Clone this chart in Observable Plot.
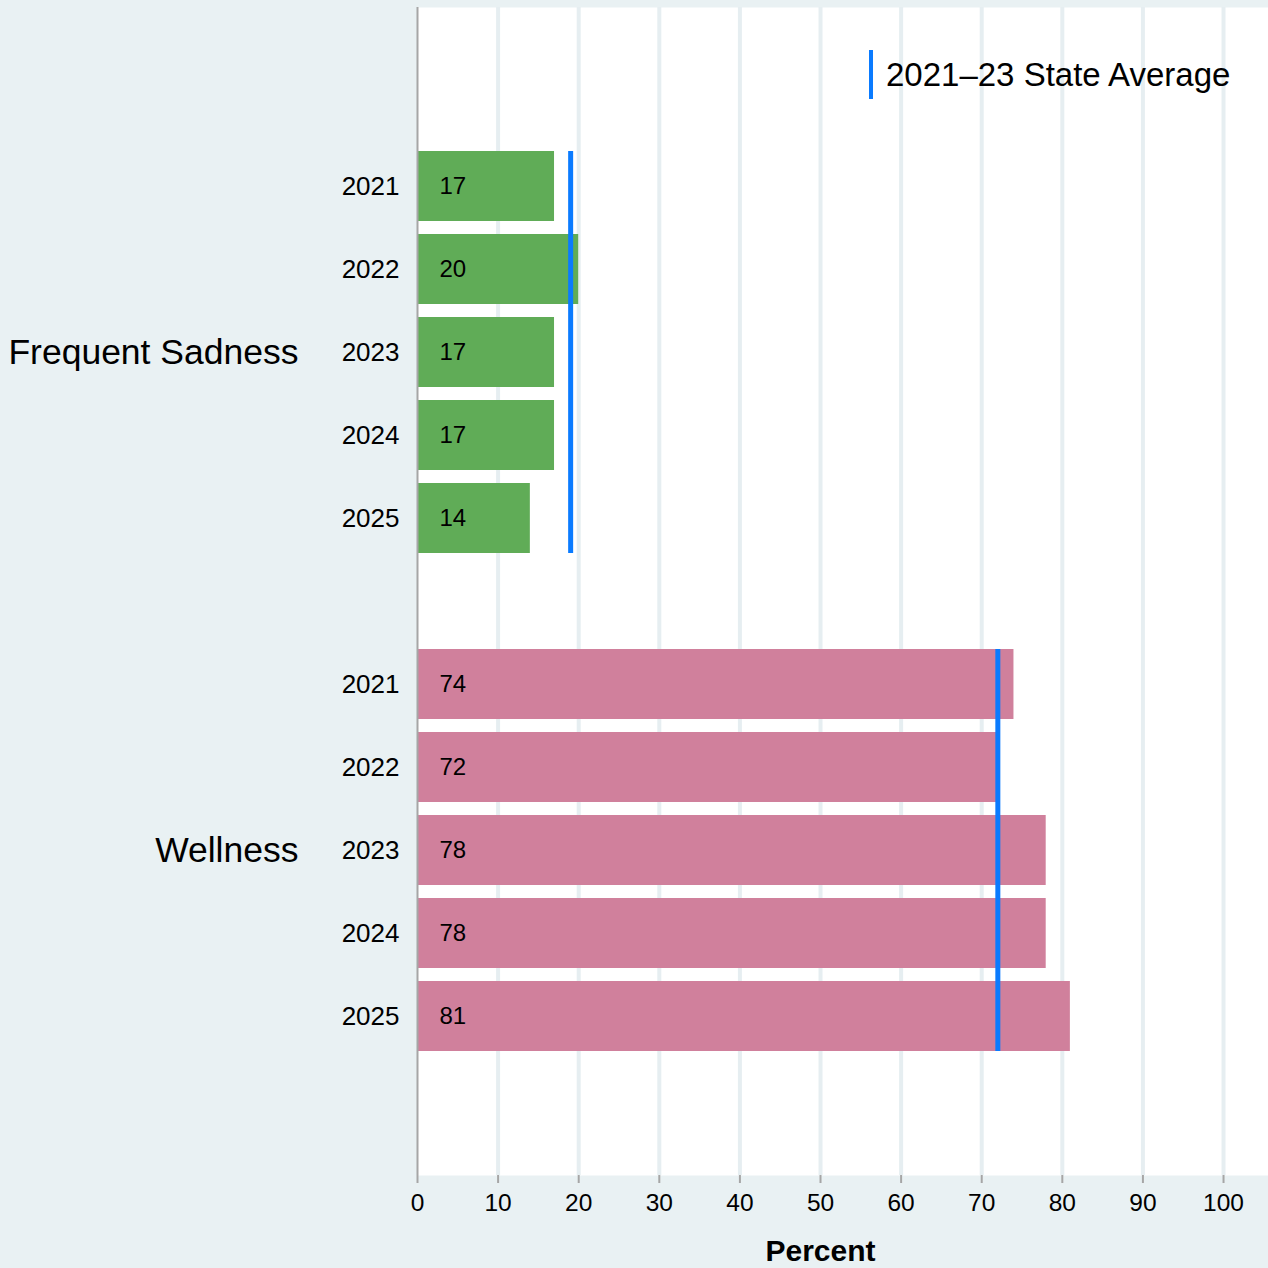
<!DOCTYPE html>
<html>
<head>
<meta charset="utf-8">
<script src="https://cdn.jsdelivr.net/npm/d3@7"></script>
<script src="https://cdn.jsdelivr.net/npm/@observablehq/plot@0.6"></script>
<style>
  html, body { margin: 0; padding: 0; background: #e9f1f3; }
  #wrap { position: relative; width: 1268px; height: 1268px; font-family: "Liberation Sans", Arial, Helvetica, sans-serif; }
  #legend { position: absolute; left: 869px; top: 50px; height: 49px; line-height: 49px;
            border-left: 4px solid #0a7bff; padding-left: 13px; font-size: 33px; color: #000; white-space: nowrap; }
</style>
</head>
<body>
<div id="wrap">
  <div id="chart"></div>
  <div id="legend">2021–23 State Average</div>
</div>
<script>
// ---- data ----
const groups = ["Frequent Sadness", "Wellness"];
const years = ["2021", "2022", "2023", "2024", "2025"];
const sadnessValues = [17, 20, 17, 17, 14];
const wellnessValues = [74, 72, 78, 78, 81];
const stateAverages = [19, 72];
const xTicks = [0, 10, 20, 30, 40, 50, 60, 70, 80, 90, 100];
const xLabel = "Percent";

// ---- build tables ----
const seriesValues = [sadnessValues, wellnessValues];
const rows = groups.flatMap((g, gi) =>
  years.map((yr, i) => ({group: g, year: yr, key: g + "|" + yr, value: seriesValues[gi][i]}))
);
const avgRows = groups.map((g, gi) => ({group: g, avg: stateAverages[gi]}));
const yDomain = [
  ...years.map(yr => groups[0] + "|" + yr),
  "spacer",
  ...years.map(yr => groups[1] + "|" + yr)
];
const midYear = years[Math.floor(years.length / 2)];

const chart = Plot.plot({
  width: 1268,
  height: 1268,
  marginLeft: 417,
  marginRight: 0,
  marginTop: 7,
  marginBottom: 93,
  style: {background: "transparent", fontFamily: "'Liberation Sans', Arial, Helvetica, sans-serif", color: "black"},
  x: {domain: [0, 105.58], label: null},
  y: {domain: yDomain, paddingInner: 0.157, paddingOuter: 1.6145, align: 0.537, label: null},
  color: {domain: groups, range: ["#60ac57", "#d0809c"]},
  marks: [
    Plot.frame({fill: "white", stroke: "none"}),
    Plot.gridX({ticks: xTicks.slice(1), stroke: "#e6eef1", strokeOpacity: 1, strokeWidth: 4}),
    Plot.barX(rows, {x: "value", y: "key", fill: "group"}),
    Plot.text(rows, {x: 0, y: "key", text: d => String(d.value), textAnchor: "start", dx: 22, fontSize: 24, fill: "black"}),
    Plot.ruleX(avgRows, {x: "avg", y1: d => d.group + "|" + years[0], y2: d => d.group + "|" + years[years.length - 1], stroke: "#0a7bff", strokeWidth: 5}),
    Plot.ruleX([0], {stroke: "#a6a6a6", strokeWidth: 2}),
    Plot.axisX({ticks: xTicks, tickSize: 8, tickPadding: 10, fontSize: 24.5, stroke: "#a6a6a6", strokeWidth: 2, fill: "black", line: true, label: null}),
    Plot.axisY({tickSize: 0, tickPadding: 18, fontSize: 26, fill: "black", label: null,
                tickFormat: k => (k.split("|")[1] ?? "")}),
    Plot.text(groups, {y: g => g + "|" + midYear, text: d => d, frameAnchor: "left", dx: -119, textAnchor: "end", fontSize: 35.5, fill: "black"}),
    Plot.text([xLabel], {x: (xTicks[0] + xTicks[xTicks.length - 1]) / 2, text: d => d, frameAnchor: "bottom", dy: 85, fontSize: 30, fontWeight: "bold", fill: "black"})
  ]
});
document.getElementById("chart").appendChild(chart);
</script>
</body>
</html>
